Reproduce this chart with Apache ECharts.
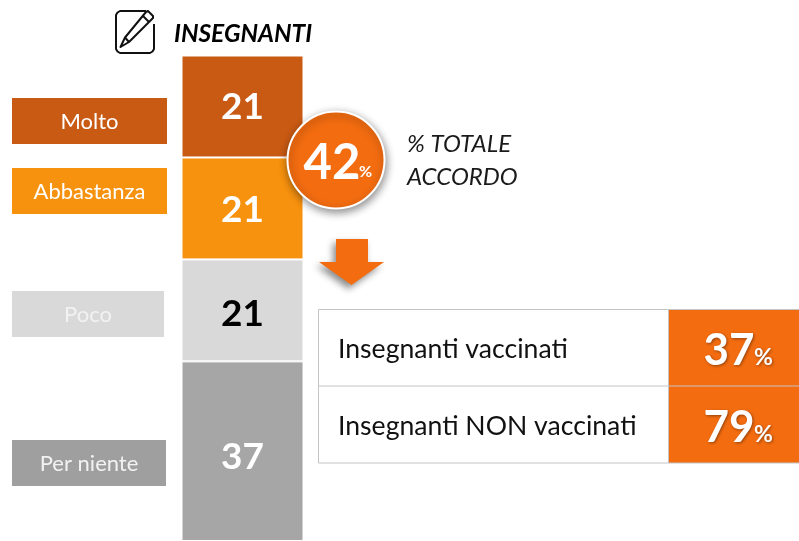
<!DOCTYPE html>
<html><head><meta charset="utf-8">
<style>html,body{margin:0;padding:0;background:#fff}#c{width:799px;height:541px}</style>
<script src="https://cdn.jsdelivr.net/npm/echarts@6/dist/echarts.min.js"></script>
</head><body><div id="c"></div>
<script>
const categories = ['Molto','Abbastanza','Poco','Per niente'];
const values = [21,21,21,37];
const barColors = ['#C95A14','#F7920F','#D9D9D9','#A6A6A6'];
const labelColors = ['#fff','#fff','#000','#fff'];
const labelNudge = [1,2,4,6];
const legendColors = ['#C95A14','#F7920F','#D9D9D9','#9F9F9F'];
const legendTextColors = ['#fff','#fff','#F2F2F2','#F2F2F2'];
const legendBoxes = [[12,98,155,46],[12,168,155,46],[12,291,152,46],[12,440,154,46]];
const title = 'INSEGNANTI';
const totalValue = '42';
const totalCaption = ['% TOTALE','ACCORDO'];
const subgroups = ['Insegnanti vaccinati','Insegnanti NON vaccinati'];
const subgroupValues = ['37','79'];
const FONT = 'Lato';
const ORANGE = '#F36C10';

const chart = echarts.init(document.getElementById('c'), null, {renderer:'canvas'});

const series = categories.map((name,i)=>({
  name, type:'bar', stack:'t', barWidth:'100%',
  data:[values[i]],
  itemStyle:{color:barColors[i],borderColor:'#fff',borderWidth:1},
  label:{show:true,position:'inside',color:labelColors[i],fontFamily:FONT,fontWeight:'bold',fontSize:37,
         offset:[0,labelNudge[i]]},
  silent:true
}));

const g = [];
// legend boxes
categories.forEach((c,i)=>{
  const b = legendBoxes[i];
  g.push({type:'rect',shape:{x:b[0],y:b[1],width:b[2],height:b[3]},
    style:{fill:legendColors[i]},z:5});
  g.push({type:'text',x:b[0]+b[2]/2,y:b[1]+b[3]/2+1,z:6,
    style:{text:c,fill:legendTextColors[i],font:'22px '+FONT,align:'center',verticalAlign:'middle'}});
});
// title + icon
g.push({type:'text',x:174,y:34,z:6,style:{text:title,fill:'#000',font:'italic bold 24.5px '+FONT,align:'left',verticalAlign:'middle'}});
g.push({type:'polyline',z:6,shape:{points:[[146,11],[120,11],[117.5,12.5],[116,15],[116,49],[117.5,51.5],[120,53],[150,53],[152.5,51.5],[154,49],[154,24]]},
  style:{fill:'none',stroke:'#111',lineWidth:2,lineJoin:'round'}});
g.push({type:'polygon',z:6,shape:{points:[[148,11],[153,16],[153,18],[129,42],[120.5,47],[125,37.5],[146,12]]},
  style:{fill:'#fff',stroke:'#111',lineWidth:2,lineJoin:'round'}});
g.push({type:'line',z:7,shape:{x1:143,y1:16,x2:149,y2:22},style:{stroke:'#111',lineWidth:2}});
g.push({type:'line',z:7,shape:{x1:125,y1:37.5,x2:129,y2:42},style:{stroke:'#111',lineWidth:2}});
// circle
g.push({type:'circle',z:10,shape:{cx:336,cy:160,r:48.5},
  style:{fill:ORANGE,stroke:'#fff',lineWidth:2,shadowBlur:9,shadowColor:'rgba(0,0,0,0.45)',shadowOffsetY:3,shadowOffsetX:1}});
g.push({type:'text',x:332,y:163,z:11,style:{text:totalValue,fill:'#fff',font:'bold 49px '+FONT,align:'center',verticalAlign:'middle'}});
g.push({type:'text',x:359,y:172,z:11,style:{text:'%',fill:'#fff',font:'bold 16px '+FONT,align:'left',verticalAlign:'middle'}});
totalCaption.forEach((t,i)=>g.push({type:'text',x:407,y:144+i*33,z:6,
  style:{text:t,fill:'#1a1a1a',font:'italic 24px '+FONT,align:'left',verticalAlign:'middle'}}));
// arrow
g.push({type:'polygon',z:7,shape:{points:[[336,239],[368,239],[368,262],[384,262],[351.5,285],[319,262],[336,262]]},
  style:{fill:ORANGE,shadowBlur:7,shadowColor:'rgba(0,0,0,0.45)',shadowOffsetX:-3,shadowOffsetY:4}});
// table
const tx0=318.5, tx1=668.5, tx2=799, ty=[309.5,386,463];
subgroups.forEach((s,i)=>{
  const mid=(ty[i]+ty[i+1])/2;
  g.push({type:'rect',z:5,shape:{x:tx1,y:ty[i],width:tx2-tx1,height:ty[i+1]-ty[i]},style:{fill:ORANGE}});
  g.push({type:'text',x:338,y:mid+2,z:6,style:{text:s,fill:'#111',font:'26.6px '+FONT,align:'left',verticalAlign:'middle'}});
  const ts={textShadowBlur:3,textShadowColor:'rgba(0,0,0,0.4)',textShadowOffsetX:1,textShadowOffsetY:1};
  g.push({type:'text',x:729,y:mid+3,z:7,style:Object.assign({text:subgroupValues[i],fill:'#fff',font:'bold 44px '+FONT,align:'center',verticalAlign:'middle'},ts)});
  g.push({type:'text',x:754,y:mid+10,z:7,style:Object.assign({text:'%',fill:'#fff',font:'bold 23px '+FONT,align:'left',verticalAlign:'middle'},ts)});
});
const lineStyle={stroke:'#C4C4C4',lineWidth:1};
[[tx0,ty[0],tx2,ty[0]],[tx0,ty[1],tx2,ty[1]],[tx0,ty[2],tx2,ty[2]],[tx0,ty[0],tx0,ty[2]],[tx1,ty[0],tx1,ty[2]]].forEach(l=>{
  g.push({type:'line',z:8,shape:{x1:l[0],y1:l[1],x2:l[2],y2:l[3]},style:lineStyle});
});

chart.setOption({
  animation:false,
  backgroundColor:'#fff',
  grid:{left:181.5,width:122,top:55.5,height:489,containLabel:false},
  xAxis:{type:'category',data:[title],show:false},
  yAxis:{type:'value',min:0,max:100,inverse:true,show:false},
  series,
  graphic:{elements:g}
});
</script></body></html>
